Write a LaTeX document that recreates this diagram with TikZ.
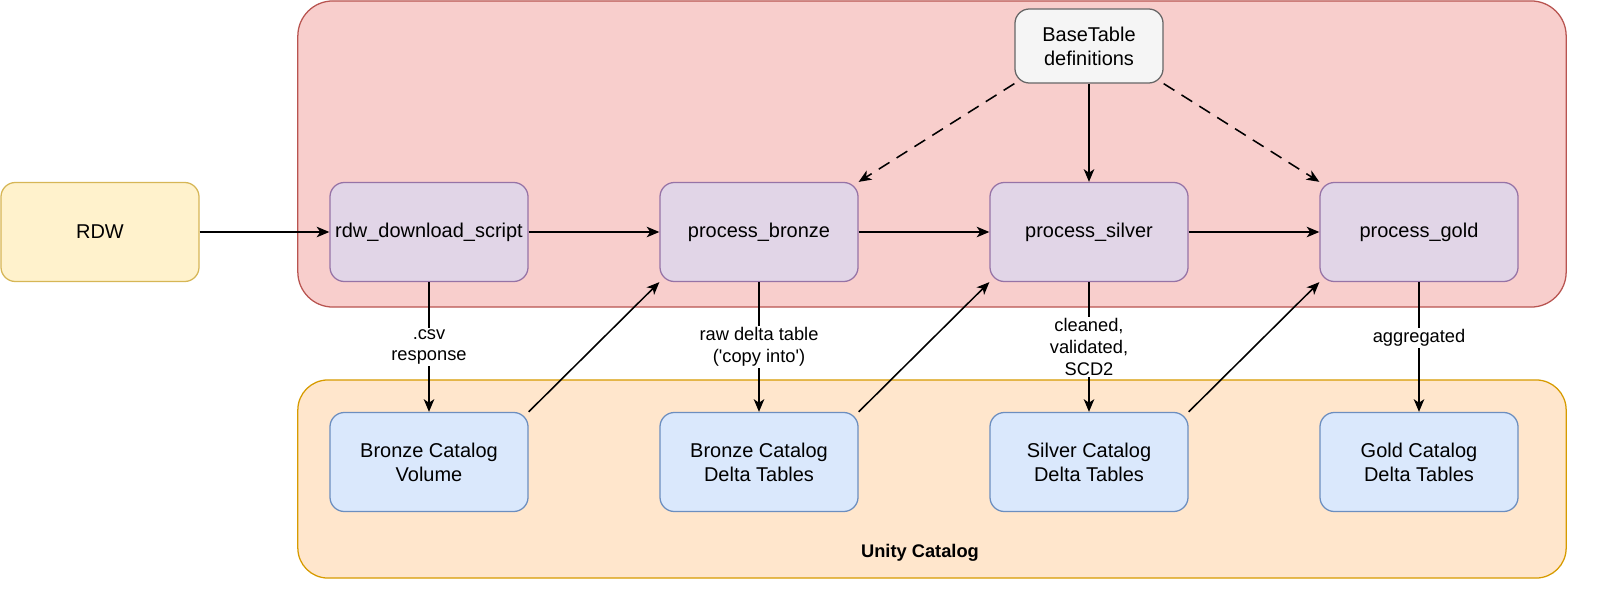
\documentclass[tikz,border=0pt]{standalone}
\usepackage{fontspec}
\setmainfont{Liberation Sans}
\usetikzlibrary{arrows.meta}
\definecolor{redfill}{HTML}{F8CECC}
\definecolor{redline}{HTML}{B85450}
\definecolor{orafill}{HTML}{FFE6CC}
\definecolor{oraline}{HTML}{D79B00}
\definecolor{yelfill}{HTML}{FFF2CC}
\definecolor{yelline}{HTML}{D6B656}
\definecolor{purfill}{HTML}{E1D5E7}
\definecolor{purline}{HTML}{9673A6}
\definecolor{blufill}{HTML}{DAE8FC}
\definecolor{bluline}{HTML}{6C8EBF}
\definecolor{gryfill}{HTML}{F5F5F5}
\definecolor{gryline}{HTML}{666666}
\begin{document}
\begin{tikzpicture}[x=0.025cm,y=-0.025cm,
  box/.style={rectangle,rounded corners=0.36cm,line width=0.9pt,minimum width=4.95cm,minimum height=2.475cm,inner sep=0pt,align=center,font=\fontsize{14.2}{17}\selectfont},
  pbox/.style={box,fill=purfill,draw=purline},
  bbox/.style={box,fill=blufill,draw=bluline},
  arr/.style={line width=1.1pt,-{Stealth[length=9pt,width=7.5pt,inset=2.5pt]}},
  dasharr/.style={arr,dash pattern=on 9pt off 6pt},
  lab/.style={fill=white,inner sep=1pt,align=center,font=\fontsize{13}{15.6}\selectfont}
]
\useasboundingbox (0,0) rectangle (1600,591);
\node[rectangle,rounded corners=0.875cm,fill=redfill,draw=redline,line width=0.9pt,minimum width=31.7cm,minimum height=7.65cm] (red) at (932,154) {};
\node[rectangle,rounded corners=0.75cm,fill=orafill,draw=oraline,line width=0.9pt,minimum width=31.7cm,minimum height=4.95cm] (ora) at (932,479) {};
\node[font=\bfseries\fontsize{13}{15.6}\selectfont] (uc) at (920,553) {Unity Catalog};

\node[box,fill=yelfill,draw=yelline] (rdw) at (100,232) {RDW};
\node[pbox] (dl) at (429,232) {rdw\_download\_script};
\node[pbox] (pb) at (759,232) {process\_bronze};
\node[pbox] (ps) at (1089,232) {process\_silver};
\node[pbox] (pg) at (1419,232) {process\_gold};
\node[box,fill=gryfill,draw=gryline,minimum width=3.7cm,minimum height=1.85cm] (bt) at (1089,46) {BaseTable\\definitions};

\node[bbox] (bv) at (429,462) {Bronze Catalog\\Volume};
\node[bbox] (bd) at (759,462) {Bronze Catalog\\Delta Tables};
\node[bbox] (sd) at (1089,462) {Silver Catalog\\ Delta Tables};
\node[bbox] (gd) at (1419,462) {Gold Catalog\\Delta Tables};

\draw[arr] (rdw) -- (dl);
\draw[arr] (dl) -- (pb);
\draw[arr] (pb) -- (ps);
\draw[arr] (ps) -- (pg);

\draw[dasharr] (bt.south west) -- (pb.north east);
\draw[arr] (bt) -- (ps);
\draw[dasharr] (bt.south east) -- (pg.north west);

\draw[arr] (dl) -- node[lab] {.csv\\response} (bv);
\draw[arr] (pb) -- node[lab] {raw delta table\\(\textquotesingle copy into\textquotesingle)} (bd);
\draw[arr] (ps) -- node[lab] {cleaned,\\validated,\\SCD2} (sd);
\draw[arr] (pg) -- node[lab,pos=0.43] {aggregated} (gd);

\draw[arr] (bv.north east) -- (pb.south west);
\draw[arr] (bd.north east) -- (ps.south west);
\draw[arr] (sd.north east) -- (pg.south west);
\end{tikzpicture}
\end{document}
